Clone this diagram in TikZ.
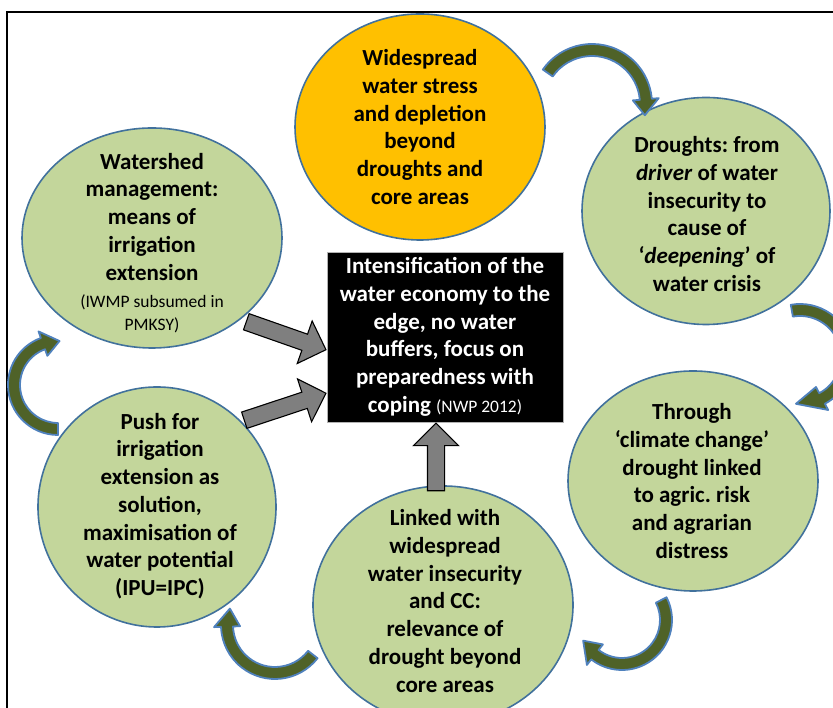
\documentclass[tikz,border=0pt]{standalone}
\usepackage{fontspec}
\setmainfont{Carlito}
\usepackage{xcolor}
\usepackage{tikz}
\usetikzlibrary{shapes,shapes.geometric,shapes.arrows}
\usetikzlibrary{calc,arrows,positioning}
\definecolor{leafgreen}{RGB}{195,214,155}
\definecolor{sunorange}{RGB}{255,192,0}
\definecolor{rimblue}{RGB}{65,113,156}
\definecolor{turnblue}{RGB}{79,129,189}
\definecolor{turnolive}{RGB}{79,98,40}
\definecolor{pushgray}{RGB}{127,127,127}
\newcommand{\wsmall}{\fontsize{17.5}{22}\selectfont\mdseries}
\frenchspacing

\begin{document}
\begin{tikzpicture}[x=1pt,y=1pt]
	\tikzstyle{bubble}=[ellipse, draw=rimblue, line width=1.6pt, fill=leafgreen, inner sep=0pt]
	\tikzstyle{btext}=[align=center, inner sep=0pt, font=\fontsize{23}{27.7}\selectfont\bfseries]
	\tikzstyle{pusharrow}=[single arrow, draw=black, line width=1.1pt, fill=pushgray, inner xsep=0pt, inner ysep=8pt, single arrow head extend=14pt]
	\tikzstyle{turnarrow}=[draw=turnblue, line width=1.8pt, fill=turnolive, line join=round]
	\useasboundingbox (0,0) rectangle (833,708);
	\draw[line width=1.5pt] (7,0) -- (7,696) -- (833,696);

	% the six bubbles
	\node[bubble, fill=sunorange, minimum width=250pt, minimum height=226pt] (stress) at (420,581) {};
	\node[bubble, minimum width=248pt, minimum height=227pt] (drought) at (706,497) {};
	\node[bubble, minimum width=250pt, minimum height=220pt] (climate) at (693,227) {};
	\node[bubble, minimum width=260pt, minimum height=238pt] (linked) at (443,103) {};
	\node[bubble, minimum width=238pt, minimum height=240pt] (push) at (157,201) {};
	\node[bubble, minimum width=260pt, minimum height=220pt] (shed) at (152,470) {};

	% curved arrows round the cycle
	\foreach \cx/\cy/\rad/\ta/\hb/\tp in {592/604/54/145/5/-12, 800/351/47/100/-62/-95, 622/88/44/27/-128/-152, 275/83/48/-38/-178/-200, 58/323/44/-90/-250/-272}
		\filldraw[turnarrow] ($(\cx,\cy)+({\ta}:{\rad+6})$) arc[start angle=\ta, end angle=\hb, radius=\rad+6]
			-- ($(\cx,\cy)+({\hb}:{\rad+13})$) -- ($(\cx,\cy)+({\tp}:{\rad})$) -- ($(\cx,\cy)+({\hb}:{\rad-13})$)
			-- ($(\cx,\cy)+({\hb}:{\rad-6})$) arc[start angle=\hb, end angle=\ta, radius=\rad-6] -- cycle;

	% centre box
	\node[draw=gray!60, line width=0.6pt, fill=black, text=white, btext, minimum width=236pt, minimum height=170pt] (box) at (445,371)
		{Intensification of the\\water economy to the\\edge, no water\\buffers, focus on\\preparedness with\\coping {\wsmall (NWP 2012)}};

	% gray arrows into the box
	\coordinate (shedtail) at (247,386);
	\coordinate (shedtip) at ($(box.west)+(0,-13)$);
	\coordinate (pushtail) at (245,288);
	\coordinate (pushtip) at ($(box.west)+(0,-56)$);
	\coordinate (linktail) at (436,218);
	\coordinate (linktip) at ($(box.south)+(-9,0)$);
	\foreach \tl/\tt in {shedtail/shedtip, pushtail/pushtip, linktail/linktip}
		\path let \p1=($(\tt)-(\tl)$) in node[pusharrow, rotate={atan2(\y1,\x1)}, minimum height={veclen(\x1,\y1)}, anchor=tip] at (\tt) {};

	% bubble texts
	\node[btext] (stresstext) at (420,581) {Widespread\\water stress\\and depletion\\beyond\\droughts and\\core areas};
	\node[btext] (droughttext) at (707,494) {Droughts: from\\\textit{driver} of water\\insecurity to\\cause of\\‘\textit{deepening}’ of\\water crisis};
	\node[btext] (climatetext) at (692,227) {Through\\‘climate change’\\drought linked\\to agric. risk\\and agrarian\\distress};
	\node[btext] (linkedtext) at (445,107) {Linked with\\widespread\\water insecurity\\and CC:\\relevance of\\drought beyond\\core areas};
	\node[btext] (pushtext) at (160,202) {Push for\\irrigation\\extension as\\solution,\\maximisation of\\water potential\\(IPU=IPC)};
	\node[btext] (shedtext) at (152,465) {Watershed\\management:\\means of\\irrigation\\extension\\{\wsmall (IWMP subsumed in}\\[-5pt]{\wsmall PMKSY)}};
\end{tikzpicture}
\end{document}
